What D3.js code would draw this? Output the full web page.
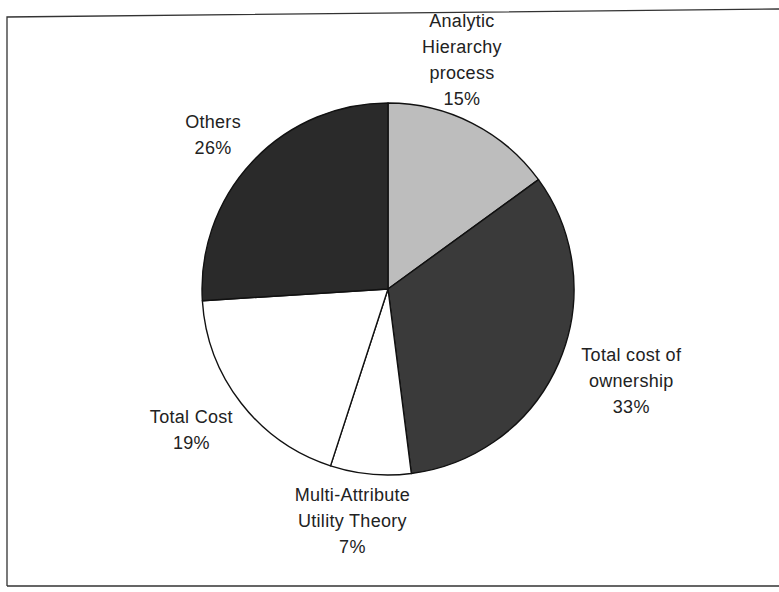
<!DOCTYPE html>
<html>
<head>
<meta charset="utf-8">
<script src="https://cdn.jsdelivr.net/npm/d3@7"></script>
<style>
  html, body { margin: 0; padding: 0; background: #fff; }
  svg { display: block; }
</style>
</head>
<body>
<svg></svg>
<script>
// slice data, clockwise from 12 o'clock
const categories = [
  "Analytic Hierarchy process",
  "Total cost of ownership",
  "Multi-Attribute Utility Theory",
  "Total Cost",
  "Others",
];
const shares = [15, 33, 7, 19, 26];
const labelLines = [
  ["Analytic", "Hierarchy", "process"],
  ["Total cost of", "ownership"],
  ["Multi-Attribute", "Utility Theory"],
  ["Total Cost"],
  ["Others"],
];

let width = 779;
let height = 592;
let cx = 388;
let cy = 289;
let radius = 186;
let labelRadius = 240;
let lineHeight = 26;

const fills = ["#bdbdbd", "#3a3a3a", "#ffffff", "#ffffff", "#2a2a2a"];
// hand nudges to match where the labels sit in the original
const nudges = [
  [-35, -15],
  [23, -3],
  [-13, -7],
  [-7, -6],
  [0, 10],
];

const svg = d3.select("svg").attr("width", width).attr("height", height);

const values = categories.map((c, i) => ({
  name: c,
  value: shares[i],
  lines: labelLines[i],
  fill: fills[i],
  nudge: nudges[i],
}));

// scanned frame around the chart
svg
  .append("path")
  .attr("d", "M7,586 L7,17 L779,9 M7,586 L779,586")
  .attr("fill", "none")
  .attr("stroke", "#333")
  .attr("stroke-width", 1.3);

const pie = d3
  .pie()
  .sort(null)
  .value((d) => d.value);

const arc = d3.arc().innerRadius(0).outerRadius(radius);
const labelArc = d3.arc().innerRadius(labelRadius).outerRadius(labelRadius);

const g = svg.append("g").attr("transform", `translate(${cx}, ${cy})`);

g.selectAll("path.slice")
  .data(pie(values))
  .enter()
  .append("path")
  .attr("class", "slice")
  .attr("d", arc)
  .attr("fill", (d) => d.data.fill)
  .attr("stroke", "#111")
  .attr("stroke-width", 1.4)
  .attr("stroke-linejoin", "round");

const labels = g
  .selectAll("text.label")
  .data(pie(values))
  .enter()
  .append("text")
  .attr("class", "label")
  .attr("text-anchor", "middle")
  .attr("font-family", "Liberation Sans, Arial, sans-serif")
  .attr("font-size", 18)
  .attr("letter-spacing", 0.3)
  .attr("fill", "#222");

labels.each(function (d) {
  const [x, y] = labelArc.centroid(d);
  const lines = d.data.lines.concat([`${d.data.value}%`]);
  const px = x + d.data.nudge[0];
  const py = y + d.data.nudge[1];
  const top = py - ((lines.length - 1) * lineHeight) / 2;
  d3.select(this)
    .selectAll("tspan")
    .data(lines)
    .enter()
    .append("tspan")
    .attr("x", px)
    .attr("y", (t, i) => top + i * lineHeight)
    .attr("dominant-baseline", "central")
    .text((t) => t);
});
</script>
</body>
</html>
